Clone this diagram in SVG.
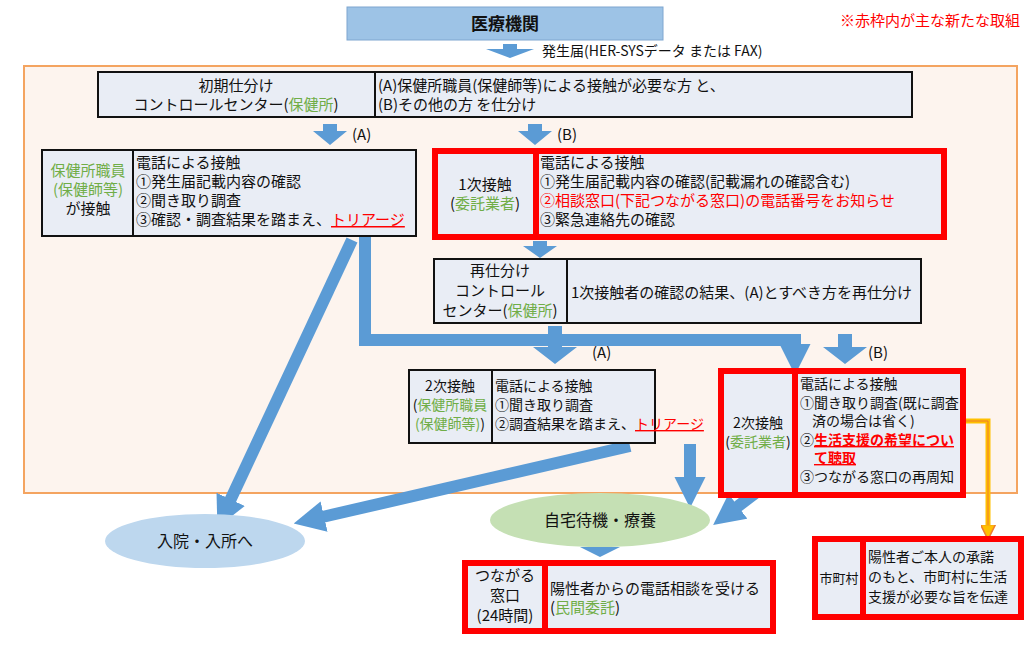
<svg xmlns="http://www.w3.org/2000/svg" width="1024" height="646" viewBox="0 0 1024 646">
<defs>
<style>
text{font-family:"Noto Sans CJK JP","Noto Sans",sans-serif;font-size:15px;fill:#111}
.c{text-anchor:middle}
.g{fill:#70ad47}
.r{fill:#ff0000}
.u{text-decoration:underline}
.cell{fill:#e9edf5;stroke:#111;stroke-width:2}
.red{fill:none;stroke:#ff0000;stroke-width:6}
.ba{fill:#5b9bd5}
.tl{fill:none;stroke:#5b9bd5;stroke-width:12}
</style>
<marker id="ah" viewBox="0 0 10 10" refX="2" refY="5" markerWidth="2.6" markerHeight="2.6" orient="auto"><path d="M0,0L10,5L0,10z" fill="#5b9bd5"/></marker>
<marker id="oh" viewBox="0 0 10 10" refX="5" refY="5" markerWidth="3" markerHeight="3" orient="auto"><path d="M0,0L10,5L0,10z" fill="#ffc000" stroke="#ed7d31"/></marker>
</defs>
<rect x="24" y="66" width="993" height="427" fill="#fdf4ee" stroke="#f4a460" stroke-width="2"/>
<g id="iryo"><rect x="347" y="7" width="316" height="33" fill="#9dc3e6" stroke="#7ea6d0"/><text x="505" y="30" class="c" style="font-size:17px;font-weight:bold">医療機関</text></g>
<text x="1020" y="26" style="text-anchor:end" class="r">※赤枠内が主な新たな取組</text>
<g id="connectors">
<polygon class="ba" points="503,44 517,44 517,49 534,49 510,58 486,49 503,49"/>
<text x="542" y="56" style="font-size:14px">発生届(HER-SYSデータ または FAX)</text>
<polygon class="ba" points="323,124 337,124 337,131 347,131 330,145 313,131 323,131"/>
<text x="352" y="140">(A)</text>
<polygon class="ba" points="528,124 542,124 542,131 552,131 535,145 518,131 528,131"/>
<text x="557" y="140">(B)</text>
<polygon class="ba" points="533,241 547,241 547,246 557,246 540,258 523,246 533,246"/>
<polygon class="ba" points="548,326 562,326 562,347 577,347 555,364 533,347 548,347"/>
<text x="592" y="358">(A)</text>
<polygon class="ba" points="838,334 852,334 852,347 867,347 845,364 823,347 838,347"/>
<text x="868" y="358">(B)</text>
<path class="tl" d="M365,236V340H795V350" marker-end="url(#ah)"/>
<path class="tl" d="M352,240L228,505" marker-end="url(#ah)"/>
<path class="tl" d="M630,446L318,518" marker-end="url(#ah)"/>
<path class="tl" d="M690,444V483" marker-end="url(#ah)"/>
<path class="tl" d="M762,488L733,510" marker-end="url(#ah)"/>
<polygon class="ba" points="593,543 607,543 607,547 620,547 600,557 580,547 593,547"/>
<path d="M966,421H988V530" fill="none" stroke="#ffc000" stroke-width="5"/>
<path d="M966,421H988V530" fill="none" stroke="#ed7d31" stroke-width="1" stroke-dasharray="0"/>
<path d="M988,528V532" stroke="#ffc000" stroke-width="5" marker-end="url(#oh)"/>
</g>
<g id="initial"><rect class="cell" x="98" y="72" width="277" height="45"/><rect class="cell" x="375" y="72" width="537" height="45"/>
<text x="236" y="91" class="c">初期仕分け</text><text x="236" y="110" class="c">コントロールセンター(<tspan class="g">保健所</tspan>)</text>
<text x="378" y="91">(A)保健所職員(保健師等)による接触が必要な方 と、</text><text x="378" y="110">(B)その他の方 を仕分け</text></g>
<g id="hokenjo"><rect class="cell" x="42" y="150" width="91" height="86"/><rect class="cell" x="133" y="150" width="283" height="86"/>
<text x="88" y="176" class="c g">保健所職員</text><text x="88" y="195" class="c g">(保健師等)</text><text x="88" y="214" class="c">が接触</text>
<text x="136" y="168">電話による接触</text><text x="136" y="187">①発生届記載内容の確認</text><text x="136" y="206">②聞き取り調査</text><text x="136" y="225">③確認・調査結果を踏まえ、<tspan class="r u">トリアージ</tspan></text></g>
<g id="ichiji"><rect class="cell" x="435" y="151" width="101" height="86" style="stroke:none"/><rect class="cell" x="536" y="151" width="408" height="86" style="stroke:none"/>
<rect class="red" x="435" y="151" width="509" height="86"/><line x1="536" y1="151" x2="536" y2="237" stroke="#ff0000" stroke-width="6"/>
<text x="485" y="190" class="c">1次接触</text><text x="485" y="209" class="c">(<tspan class="g">委託業者</tspan>)</text>
<text x="540" y="168">電話による接触</text><text x="540" y="187">①発生届記載内容の確認(記載漏れの確認含む)</text><text x="540" y="206" class="r">②相談窓口(下記つながる窓口)の電話番号をお知らせ</text><text x="540" y="225">③緊急連絡先の確認</text></g>
<g id="saishiwake"><rect class="cell" x="434" y="259" width="133" height="64"/><rect class="cell" x="567" y="259" width="354" height="64"/>
<text x="500" y="276" class="c">再仕分け</text><text x="500" y="296" class="c">コントロール</text><text x="500" y="316" class="c">センター(<tspan class="g">保健所</tspan>)</text>
<text x="571" y="298">1次接触者の確認の結果、(A)とすべき方を再仕分け</text></g>
<g id="niji-a"><rect class="cell" x="409" y="370" width="83" height="73"/><rect class="cell" x="492" y="370" width="163" height="73"/>
<text x="450" y="391" class="c" style="font-size:14px">2次接触</text><text x="450" y="410" class="c g" style="font-size:14px"><tspan style="fill:#111">(</tspan>保健所職員</text><text x="450" y="429" class="c g" style="font-size:14px">(保健師等)<tspan style="fill:#111">)</tspan></text>
<text x="495" y="391" style="font-size:14px">電話による接触</text><text x="495" y="410" style="font-size:14px">①聞き取り調査</text><text x="495" y="429" style="font-size:14px">②調査結果を踏まえ、<tspan class="r u">トリアージ</tspan></text></g>
<g id="niji-b"><rect class="cell" x="721" y="371" width="74" height="124" style="stroke:none"/><rect class="cell" x="795" y="371" width="168" height="124" style="stroke:none"/>
<rect class="red" x="721" y="371" width="242" height="124"/><line x1="795" y1="371" x2="795" y2="495" stroke="#ff0000" stroke-width="6"/>
<text x="758" y="428" class="c" style="font-size:14px">2次接触</text><text x="758" y="447" class="c" style="font-size:14px">(<tspan class="g">委託業者</tspan>)</text>
<text x="800" y="389" style="font-size:14px">電話による接触</text><text x="800" y="408" style="font-size:14px">①聞き取り調査(既に調査</text><text x="812" y="426" style="font-size:14px">済の場合は省く)</text>
<text x="800" y="445" style="font-size:14px">②<tspan class="r u" style="font-weight:bold">生活支援の希望につい</tspan></text><text x="814" y="463" class="r u" style="font-size:14px;font-weight:bold">て聴取</text><text x="800" y="482" style="font-size:14px">③つながる窓口の再周知</text></g>
<g id="nyuin"><ellipse cx="205" cy="541" rx="100" ry="27" fill="#bdd7ee"/><text x="205" y="547" class="c" style="font-size:16px">入院・入所へ</text></g>
<g id="jitaku"><ellipse cx="600" cy="520" rx="110" ry="27" fill="#c5e0b4"/><text x="600" y="526" class="c" style="font-size:16px">自宅待機・療養</text></g>
<g id="madoguchi"><rect class="cell" x="465" y="563" width="80" height="68" style="stroke:none"/><rect class="cell" x="545" y="563" width="228" height="68" style="stroke:none"/>
<rect class="red" x="465" y="563" width="308" height="68"/><line x1="545" y1="563" x2="545" y2="631" stroke="#ff0000" stroke-width="6"/>
<text x="505" y="581" class="c">つながる</text><text x="505" y="601" class="c">窓口</text><text x="505" y="621" class="c">(24時間)</text>
<text x="550" y="594">陽性者からの電話相談を受ける</text><text x="550" y="613">(<tspan class="g">民間委託</tspan>)</text></g>
<g id="shichoson"><rect class="cell" x="815" y="539" width="48" height="78" style="stroke:none"/><rect class="cell" x="863" y="539" width="158" height="78" style="stroke:none"/>
<rect class="red" x="815" y="539" width="206" height="78"/><line x1="863" y1="539" x2="863" y2="617" stroke="#ff0000" stroke-width="6"/>
<text x="839" y="583" class="c" style="font-size:13px">市町村</text>
<text x="868" y="562" style="font-size:14px">陽性者ご本人の承諾</text><text x="868" y="582" style="font-size:14px">のもと、市町村に生活</text><text x="868" y="602" style="font-size:14px">支援が必要な旨を伝達</text></g>
</svg>
